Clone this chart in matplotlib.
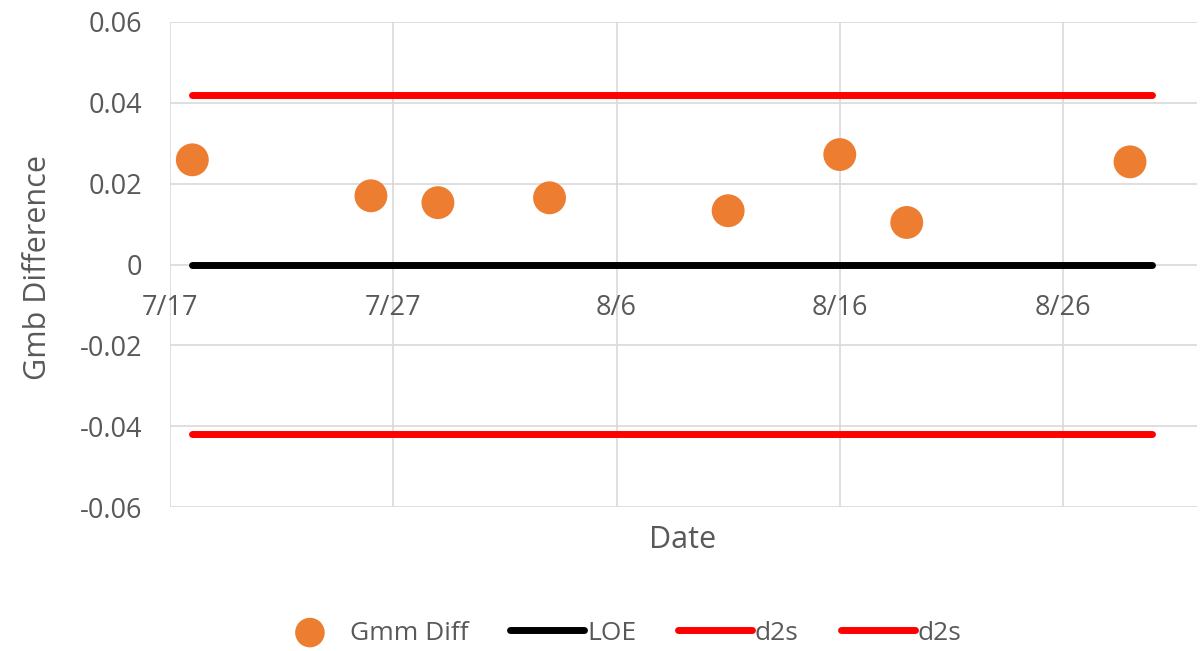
import datetime as dt

import matplotlib
matplotlib.use("Agg")
import matplotlib.pyplot as plt
import matplotlib.dates as mdates
from matplotlib.ticker import FuncFormatter, FixedLocator

# Gmm differences per test date
test_dates = ["2019-07-18", "2019-07-26", "2019-07-29", "2019-08-03",
              "2019-08-11", "2019-08-16", "2019-08-19", "2019-08-29"]
gmm_diff = [0.0259, 0.0170, 0.0153, 0.0165, 0.0133, 0.0272, 0.0104, 0.0254]

# limit lines span the first to the last test window
limit_dates = ["2019-07-18", "2019-08-30"]
loe = [0.0, 0.0]
d2s_upper = [0.042, 0.042]
d2s_lower = [-0.042, -0.042]

y_ticks = [-0.06, -0.04, -0.02, 0, 0.02, 0.04, 0.06]
x_start = "2019-07-17"
x_end = "2019-09-01"

plt.rcParams["font.family"] = ["Open Sans", "DejaVu Sans"]
text_grey = "#595959"
grid_grey = "#d9d9d9"


def to_dates(items):
    return [dt.datetime.strptime(s, "%Y-%m-%d") for s in items]


fig = plt.figure(figsize=(12.01, 6.51), dpi=100)
ax = fig.add_axes([170 / 1201, 1 - 507 / 651, 1027 / 1201, 485 / 651])

xs = to_dates(limit_dates)
ax.plot(xs, loe, color="black", lw=5, solid_capstyle="round", label="LOE", zorder=3)
ax.plot(xs, d2s_upper, color="#ff0000", lw=5, solid_capstyle="round", label="d2s", zorder=3)
ax.plot(xs, d2s_lower, color="#ff0000", lw=5, solid_capstyle="round", label="d2s", zorder=3)
ax.scatter(to_dates(test_dates), gmm_diff, s=560, color="#ed7d31", edgecolors="none",
           label="Gmm Diff", zorder=4)

x0, x1 = to_dates([x_start, x_end])
ax.set_xlim(x0, x1)
ax.set_ylim(-0.06, 0.06)

# ticks every 10 days from the start
tick_days = [mdates.date2num(x0 + dt.timedelta(days=10 * i)) for i in range(5)]
ax.xaxis.set_major_locator(FixedLocator(tick_days))
ax.xaxis.set_major_formatter(FuncFormatter(
    lambda v, p: "%d/%d" % (mdates.num2date(v).month, mdates.num2date(v).day)))
ax.yaxis.set_major_locator(FixedLocator(y_ticks))
ax.yaxis.set_major_formatter(FuncFormatter(lambda v, p: "0" if abs(v) < 1e-9 else "%.2f" % v))

ax.spines["bottom"].set_position(("data", 0))
for side in ["top", "right", "bottom", "left"]:
    ax.spines[side].set_visible(False)

ax.grid(True, color=grid_grey, lw=1.2)
ax.set_axisbelow(True)
ax.tick_params(axis="both", length=0, labelsize=19.5, colors=text_grey)
ax.tick_params(axis="x", pad=21)
ax.tick_params(axis="y", pad=20)

fig.text(683 / 1201, 1 - 540 / 651, "Date", ha="center", va="center",
         fontsize=22, color=text_grey)
fig.text(38 / 1201, 1 - 268 / 651, "Gmb Difference", ha="center", va="center",
         rotation=90, fontsize=22, color=text_grey)

handles, labels = ax.get_legend_handles_labels()
order = [3, 0, 1, 2]
leg = fig.legend([handles[i] for i in order], [labels[i] for i in order],
                 loc="center", bbox_to_anchor=(617 / 1201, 1 - 633 / 651), ncol=4,
                 frameon=False, handlelength=2.8, handletextpad=0.1, columnspacing=1.6,
                 markerscale=0.9, prop={"size": 19})
for t in leg.get_texts():
    t.set_color(text_grey)

fig.savefig("out.png", dpi=100)
